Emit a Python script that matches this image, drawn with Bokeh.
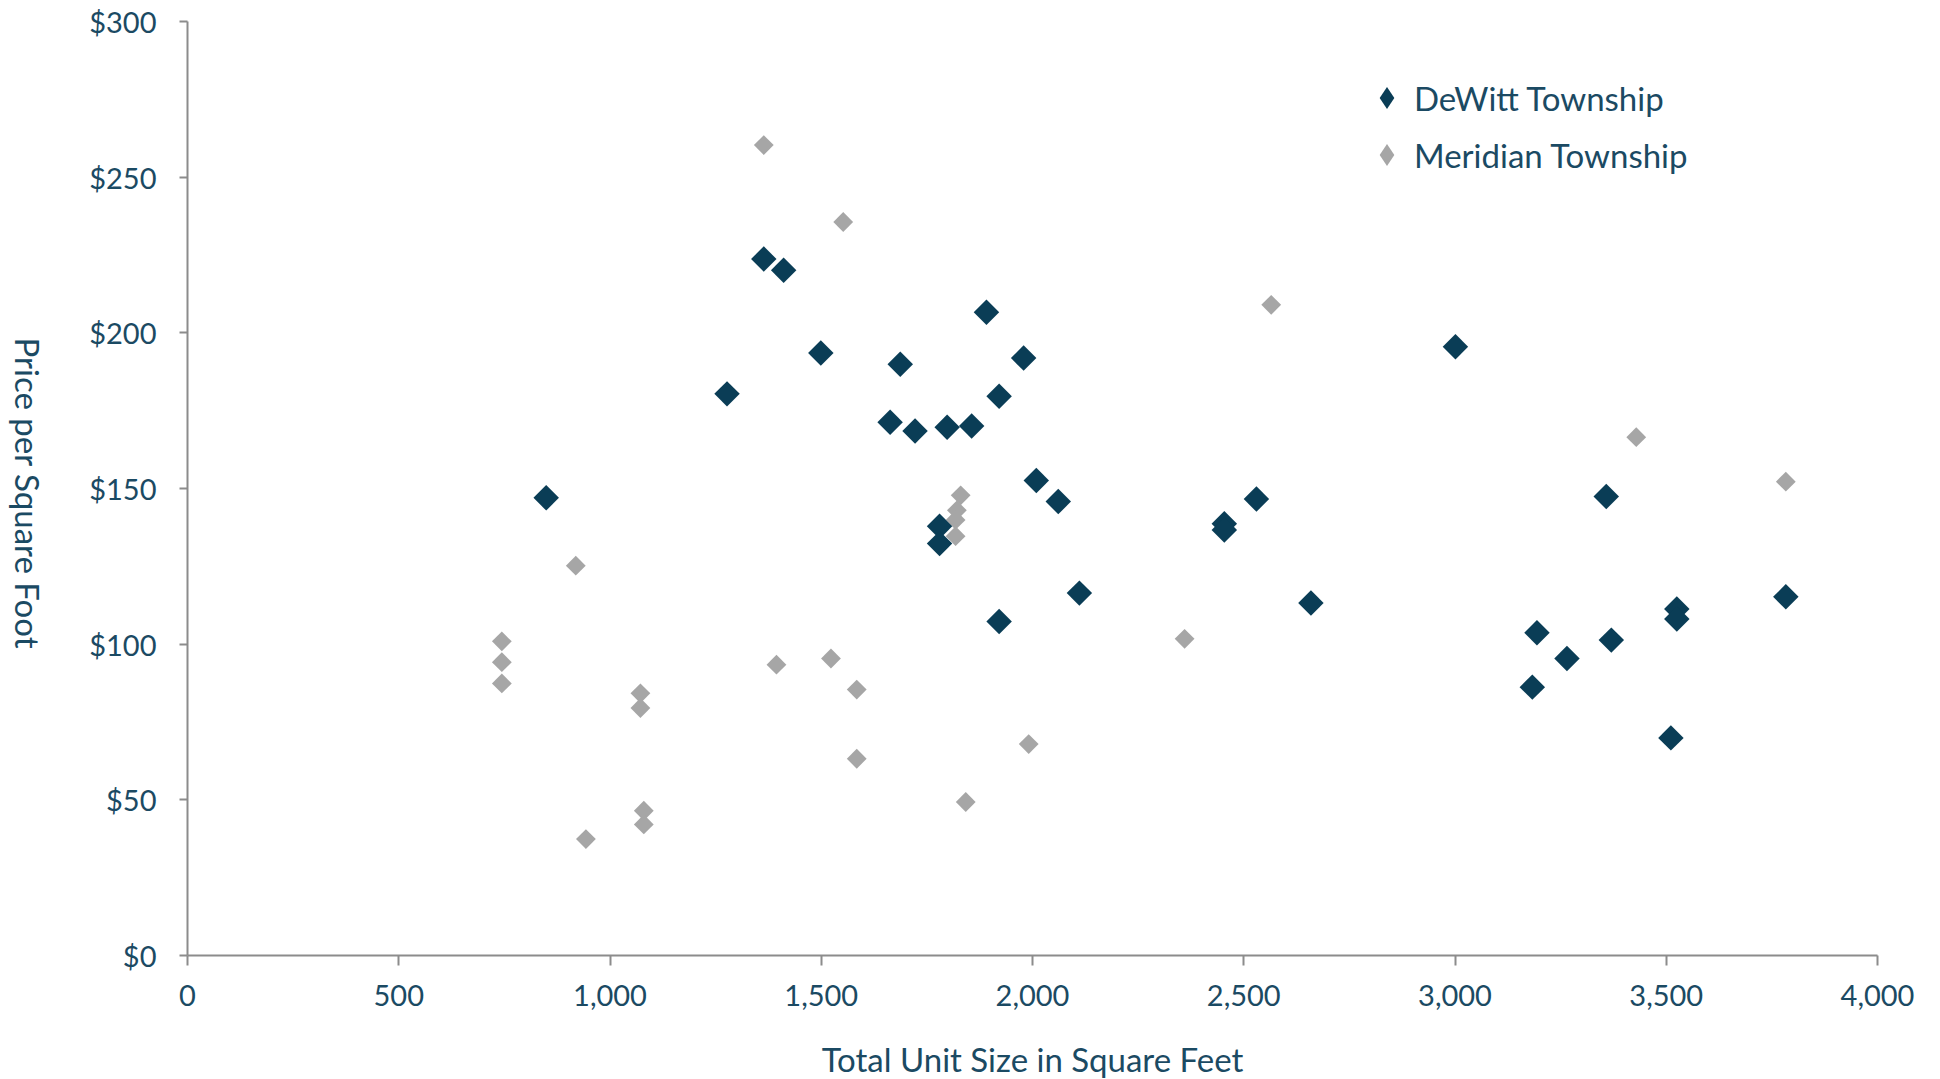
import math
from bokeh.plotting import figure
from bokeh.models import Range1d, NumeralTickFormatter, FixedTicker, Legend, LegendItem, LinearAxis
from bokeh.embed import file_html
from bokeh.resources import INLINE

# ---- data ----
dewitt_size = [849, 1277, 1364, 1411, 1499, 1663, 1687, 1722, 1798, 1856, 1891, 1921, 1979,
               1780, 1780, 2009, 2061, 1921, 2111, 2454, 2454, 2530, 2659, 3001, 3183, 3194,
               3265, 3358, 3370, 3511, 3525, 3525, 3783]
dewitt_price = [147.0, 180.4, 223.7, 220.1, 193.5, 171.3, 189.9, 168.5, 169.7, 170.1, 206.6, 179.6, 191.9,
                137.9, 132.3, 152.6, 145.8, 107.3, 116.4, 138.7, 136.7, 146.6, 113.2, 195.5, 86.2, 103.7,
                95.4, 147.4, 101.3, 69.9, 111.3, 108.1, 115.2]

meridian_size = [1364, 1552, 2565, 3429, 3783, 1830, 1821, 1818, 1818, 919, 744, 744, 744,
                 1072, 1072, 1394, 1523, 1584, 1584, 1991, 2360, 1842, 1080, 1080, 943]
meridian_price = [260.3, 235.6, 209.0, 166.5, 152.2, 147.8, 143.0, 139.9, 134.7, 125.2, 100.9, 94.2, 87.4,
                  84.2, 79.5, 93.4, 95.4, 85.4, 63.2, 67.9, 101.7, 49.3, 46.5, 42.1, 37.4]

series_names = ["DeWitt Township", "Meridian Township"]
x_ticks = [0, 500, 1000, 1500, 2000, 2500, 3000, 3500, 4000]
y_ticks = [0, 50, 100, 150, 200, 250, 300]
x_title = "Total Unit Size in Square Feet"
y_title = "Price per Square Foot"

# ---- style ----
FONT = "Lato"
TEXT = "#1B4A63"
DARK = "#0A3D56"
GRAY = "#A6A6A6"
AXIS = "#8C8C8C"

p = figure(frame_width=1690, frame_height=934, output_backend="svg", toolbar_location=None,
           x_range=Range1d(0, 4000), y_range=Range1d(0, 300),
           min_border_left=204, min_border_right=47, min_border_top=21, min_border_bottom=120)
p.styles = {"margin-left": "-17px"}
p.outline_line_color = None
p.xgrid.visible = False
p.ygrid.visible = False
p.background_fill_color = "white"
p.border_fill_color = "white"

# legend keys (diamond shaped), drawn first so the data markers cover them fully
k_mer = p.scatter(meridian_size, meridian_price, marker="diamond", size=14, fill_color=GRAY, line_color=None)
k_dew = p.scatter(dewitt_size, dewitt_price, marker="diamond", size=14, fill_color=DARK, line_color=None)

r_mer = p.scatter(meridian_size, meridian_price, marker="square", size=14, angle=math.pi / 4,
                  fill_color=GRAY, line_color=None)
r_dew = p.scatter(dewitt_size, dewitt_price, marker="square", size=18, angle=math.pi / 4,
                  fill_color=DARK, line_color=None)

for ax in (p.xaxis[0], p.yaxis[0]):
    ax.axis_line_color = AXIS
    ax.axis_line_width = 2
    ax.major_tick_line_color = AXIS
    ax.major_tick_line_width = 2
    ax.minor_tick_line_color = None
    ax.major_tick_in = 0
    ax.major_label_text_font = FONT
    ax.major_label_text_font_size = "29px"
    ax.major_label_text_color = TEXT

p.xaxis[0].ticker = FixedTicker(ticks=x_ticks)
p.yaxis[0].ticker = FixedTicker(ticks=y_ticks)
p.xaxis[0].formatter = NumeralTickFormatter(format="0,0")
p.yaxis[0].formatter = NumeralTickFormatter(format="$0")
p.xaxis[0].major_tick_out = 10
p.yaxis[0].major_tick_out = 8
p.xaxis[0].major_label_standoff = 19
p.yaxis[0].major_label_standoff = 23

# x axis title
p.xaxis[0].axis_label = x_title
p.xaxis[0].axis_label_text_font = FONT
p.xaxis[0].axis_label_text_font_size = "33px"
p.xaxis[0].axis_label_text_font_style = "normal"
p.xaxis[0].axis_label_text_color = TEXT
p.xaxis[0].axis_label_standoff = 30

# y axis title, reading top to bottom, via a bare extra axis
y_title_end = 98.4
ytitle_axis = LinearAxis(ticker=FixedTicker(ticks=[y_title_end]),
                         major_label_overrides={y_title_end: y_title},
                         major_label_orientation=-math.pi / 2,
                         major_label_text_font=FONT, major_label_text_font_size="33px",
                         major_label_text_color=TEXT, major_label_standoff=53,
                         axis_line_color=None, major_tick_line_color=None,
                         minor_tick_line_color=None)
p.add_layout(ytitle_axis, "left")

legend = Legend(items=[LegendItem(label=series_names[0], renderers=[k_dew]),
                       LegendItem(label=series_names[1], renderers=[k_mer])],
                location=(1172, 773), padding=0, margin=0, spacing=2,
                glyph_width=55, glyph_height=55, label_standoff=0,
                label_text_font=FONT, label_text_font_size="33px", label_text_color=TEXT,
                border_line_color=None, background_fill_alpha=0)
p.add_layout(legend)

open("out.html", "w").write(file_html(p, INLINE))
